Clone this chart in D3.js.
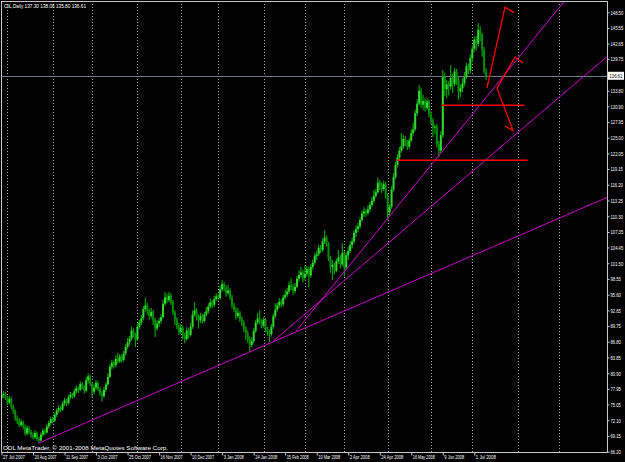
<!DOCTYPE html>
<html>
<head>
<meta charset="utf-8">
<script src="https://cdn.jsdelivr.net/npm/d3@7"></script>
<style>
  html, body { margin: 0; padding: 0; background: #000; }
  svg { display: block; }
</style>
</head>
<body>
<script>
// -------------------------------------------------------------------------- //
//                                  DATA                                      //
// -------------------------------------------------------------------------- //

var symbolTitle = "OIL,Daily";
var copyrightText = "ODL MetaTrader, \u00a9 2001-2008 MetaQuotes Software Corp.";

var opens = [
  76.2,76.8,77.0,76.2,75.4,76.1,74.6,73.8,72.5,71.9,
  71.2,71.8,70.9,69.6,70.6,69.9,69.3,68.9,69.7,68.6,
  68.3,69.4,70.1,69.8,70.9,71.6,72.3,72.0,73.1,73.9,
  74.4,74.1,75.2,75.8,75.3,76.4,76.9,76.6,77.5,78.1,
  77.8,78.9,78.4,77.6,79.6,80.3,78.9,77.4,78.2,79.1,
  77.9,77.2,76.6,77.8,78.8,80.2,82.1,82.9,82.4,83.6,
  83.1,84.0,83.4,84.6,85.8,86.7,87.4,88.9,88.1,87.2,
  89.6,90.4,91.2,92.9,93.6,92.6,91.6,92.4,90.8,89.3,
  90.2,90.7,91.4,93.9,95.1,94.6,95.4,94.2,92.3,91.0,
  89.8,88.6,89.4,88.0,87.3,88.9,88.1,89.6,91.9,92.7,
  91.4,90.8,91.6,90.7,91.9,92.5,93.4,94.2,93.7,94.8,
  95.3,95.0,96.6,97.6,96.8,95.9,96.4,95.1,93.6,92.8,
  91.6,92.2,91.0,90.4,89.2,88.4,87.3,86.2,86.9,88.8,
  90.4,91.2,90.6,89.8,90.9,89.1,88.6,88.2,89.6,91.6,
  92.8,93.6,94.3,93.8,95.1,95.6,96.2,97.4,97.0,96.3,
  97.1,98.6,99.3,99.8,98.8,99.5,100.4,99.2,100.8,101.6,
  102.9,103.2,104.4,104.0,105.6,106.3,105.1,102.4,100.8,101.2,
  100.1,101.9,102.6,101.3,103.4,100.7,103.0,103.8,104.9,105.6,
  107.2,107.9,108.4,109.6,110.8,111.2,110.9,111.6,112.4,113.2,
  114.1,114.8,116.6,116.0,115.4,116.3,114.2,111.0,112.1,115.3,
  117.6,119.9,121.3,122.6,123.4,124.8,124.1,123.3,124.5,125.9,
  126.6,129.6,131.4,133.8,131.2,131.9,130.6,131.8,129.4,128.2,
  126.9,127.1,123.8,122.6,125.5,136.4,134.1,135.0,134.6,136.2,
  135.1,137.4,135.8,133.6,134.3,135.2,136.4,138.4,137.6,139.9,
  141.7,143.4,142.6,145.2,144.3,141.4,137.30
];

var highs = [
  77.3,77.6,77.4,76.6,76.7,76.4,75.0,74.1,73.0,72.4,
  72.3,72.0,71.3,71.1,71.0,70.3,69.8,70.2,70.0,69.0,
  69.8,70.6,70.5,71.3,72.0,72.8,72.7,73.5,74.3,74.9,
  74.8,75.6,76.3,76.1,76.9,77.4,77.2,78.0,78.6,78.4,
  79.4,79.2,78.7,80.2,80.9,80.6,79.2,78.8,79.6,79.4,
  78.3,77.6,78.3,79.2,80.9,82.6,83.4,83.3,84.2,84.7,
  84.5,84.4,85.1,86.3,87.5,87.9,89.6,89.3,88.5,90.2,
  90.9,91.8,93.5,95.0,94.1,93.0,93.1,92.8,91.3,90.8,
  91.3,92.0,94.6,96.1,95.8,96.1,95.9,94.6,92.7,91.4,
  90.3,90.1,89.8,88.5,89.5,89.3,90.3,92.6,94.2,93.1,
  91.9,92.2,92.0,92.4,93.3,94.0,94.9,94.6,95.4,95.9,
  95.7,97.3,98.4,98.0,97.4,97.4,96.8,95.6,94.1,93.3,
  93.1,92.6,91.5,90.8,89.7,88.9,87.8,87.6,89.3,90.9,
  92.2,92.7,91.0,91.4,91.3,89.6,89.1,90.1,92.1,94.0,
  94.1,95.0,94.8,95.6,96.5,96.9,98.1,98.7,97.6,97.8,
  99.1,100.2,100.8,100.3,101.1,101.0,100.9,101.3,102.2,103.4,
  103.9,105.0,104.9,106.2,107.7,106.7,105.5,102.9,102.1,101.6,
  102.4,104.0,103.1,105.3,103.8,103.5,104.6,105.6,106.3,107.7,
  108.6,109.1,110.1,111.4,112.0,111.7,112.3,113.0,113.9,115.2,
  115.4,117.5,117.1,116.6,117.0,116.7,114.6,112.6,115.9,118.4,
  120.5,122.0,123.3,125.9,125.5,125.3,124.6,125.0,126.6,127.8,
  130.3,132.2,134.9,134.4,133.0,132.5,132.4,132.2,129.9,128.7,
  127.5,127.6,124.4,126.2,137.7,137.2,135.8,135.6,138.6,137.0,
  138.1,137.9,136.4,135.0,136.1,137.3,139.0,138.9,140.6,142.3,
  143.9,144.1,146.5,145.9,144.6,142.0,138.06
];

var lows = [
  75.8,76.3,75.9,74.9,75.1,74.2,73.3,72.0,71.4,70.8,
  70.9,70.4,69.2,69.3,69.5,68.8,68.5,68.6,68.2,67.8,
  68.1,69.0,69.3,69.6,70.5,71.2,71.5,71.8,72.7,73.4,
  73.6,73.9,74.8,74.7,75.0,76.0,76.1,76.3,77.1,77.2,
  77.5,77.9,77.1,77.3,79.0,78.5,76.5,77.0,77.8,77.5,
  76.7,75.6,76.2,77.4,78.5,80.0,81.6,81.8,82.0,82.7,
  82.8,82.9,83.1,84.2,85.4,86.1,87.0,87.6,85.8,86.9,
  89.2,89.9,90.8,92.4,91.9,90.9,91.2,89.9,87.7,88.9,
  89.6,90.2,91.1,93.5,94.0,94.2,93.7,91.8,89.9,89.2,
  88.1,88.2,87.2,86.5,87.0,87.4,87.8,89.2,91.5,90.8,
  89.3,90.3,90.2,90.4,91.5,92.1,93.0,93.1,93.3,94.4,
  94.5,94.7,96.2,96.2,95.2,95.5,94.6,93.0,92.3,90.9,
  91.2,90.5,89.7,88.6,87.1,86.6,84.9,85.7,86.5,88.4,
  90.0,90.1,89.3,89.4,88.6,87.9,86.7,87.8,89.2,91.2,
  92.4,93.1,93.2,93.4,94.7,95.2,95.8,96.5,95.5,95.9,
  96.8,98.1,98.8,97.9,98.3,99.0,97.0,98.8,100.3,101.2,
  102.1,102.8,103.4,103.6,105.1,104.6,101.9,99.7,98.4,99.4,
  99.8,101.4,100.6,101.0,99.0,100.3,102.1,103.4,104.3,105.2,
  106.4,107.3,108.0,109.2,110.2,110.2,110.5,111.1,112.0,112.8,
  113.7,114.5,115.2,114.6,115.0,113.6,109.6,110.3,111.7,114.9,
  117.2,119.4,120.8,122.2,122.9,123.4,122.7,122.9,124.1,125.4,
  126.2,129.1,131.0,130.6,130.2,129.9,130.1,128.8,127.6,125.2,
  125.6,123.2,121.4,122.1,125.0,132.8,132.4,132.9,134.0,133.4,
  134.6,134.9,132.1,132.6,133.5,134.6,136.0,136.9,137.1,139.2,
  141.0,141.4,142.1,143.1,140.2,137.0,135.80
];

var closes = [
  76.8,77.0,76.2,75.4,76.1,74.6,73.8,72.5,71.9,71.2,
  71.8,70.9,69.6,70.6,69.9,69.3,68.9,69.7,68.6,68.3,
  69.4,70.1,69.8,70.9,71.6,72.3,72.0,73.1,73.9,74.4,
  74.1,75.2,75.8,75.3,76.4,76.9,76.6,77.5,78.1,77.8,
  78.9,78.4,77.6,79.6,80.3,78.9,77.4,78.2,79.1,77.9,
  77.2,76.6,77.8,78.8,80.2,82.1,82.9,82.4,83.6,83.1,
  84.0,83.4,84.6,85.8,86.7,87.4,88.9,88.1,87.2,89.6,
  90.4,91.2,92.9,93.6,92.6,91.6,92.4,90.8,89.3,90.2,
  90.7,91.4,93.9,95.1,94.6,95.4,94.2,92.3,91.0,89.8,
  88.6,89.4,88.0,87.3,88.9,88.1,89.6,91.9,92.7,91.4,
  90.8,91.6,90.7,91.9,92.5,93.4,94.2,93.7,94.8,95.3,
  95.0,96.6,97.6,96.8,95.9,96.4,95.1,93.6,92.8,91.6,
  92.2,91.0,90.4,89.2,88.4,87.3,86.2,86.9,88.8,90.4,
  91.2,90.6,89.8,90.9,89.1,88.6,88.2,89.6,91.6,92.8,
  93.6,94.3,93.8,95.1,95.6,96.2,97.4,97.0,96.3,97.1,
  98.6,99.3,99.8,98.8,99.5,100.4,99.2,100.8,101.6,102.9,
  103.2,104.4,104.0,105.6,106.3,105.1,102.4,100.8,101.2,100.1,
  101.9,102.6,101.3,103.4,100.7,103.0,103.8,104.9,105.6,107.2,
  107.9,108.4,109.6,110.8,111.2,110.9,111.6,112.4,113.2,114.1,
  114.8,116.6,116.0,115.4,116.3,114.2,111.0,112.1,115.3,117.6,
  119.9,121.3,122.6,123.4,124.8,124.1,123.3,124.5,125.9,126.6,
  129.6,131.4,133.8,131.2,131.9,130.6,131.8,129.4,128.2,126.9,
  127.1,123.8,122.6,125.5,136.4,134.1,135.0,134.6,136.2,135.1,
  137.4,135.8,133.6,134.3,135.2,136.4,138.4,137.6,139.9,141.7,
  143.4,142.6,145.2,144.3,141.4,137.4,136.61
];

// price scale labels on the right
var priceTicks = [148.50,145.55,142.65,139.75,133.80,130.90,127.95,125.00,122.05,
                  119.15,116.20,113.25,110.30,107.35,104.45,101.50,98.55,95.60,
                  92.65,89.75,86.80,83.85,80.90,77.95,75.05,72.10,69.15,66.20];

// time scale labels (bar index -> text)
var dateTickBars   = [0,16,32,48,64,80,96,112,128,144,160,176,192,208,224,240];
var dateTickLabels = ["27 Jul 2007","20 Aug 2007","11 Sep 2007","3 Oct 2007","25 Oct 2007",
                      "16 Nov 2007","10 Dec 2007","3 Jan 2008","24 Jan 2008","15 Feb 2008",
                      "10 Mar 2008","2 Apr 2008","24 Apr 2008","16 May 2008","9 Jun 2008","1 Jul 2008"];

// month separators (bar index of first bar of the month)
var monthGridBars = [3,26,46,69,91,110,133,154,174,196,218,239,262,283];

// hand drawn trend lines, [bar, price] pairs
var trendLines = [
  [[18.8, 67.8],  [307.6, 113.85]],
  [[137.6, 86.8], [307.6, 140.3]],
  [[149.5, 88.8], [290.0, 152.5]]
];

// red support levels
var supportLevels = [
  { price: 131.1, from: 223.5, to: 265.5 },
  { price: 120.8, from: 200.8, to: 267.0 }
];

// red arrows, polylines in [bar, price]
var arrowPaths = [
  [[246.4, 134.3], [255.6, 149.5], [260.2, 148.4]],
  [[251.5, 134.3], [260.7, 140.1], [264.7, 139.0]],
  [[251.5, 134.3], [259.6, 126.4], [255.5, 127.2]]
];

// -------------------------------------------------------------------------- //
//                                  SETUP                                     //
// -------------------------------------------------------------------------- //

var W = 625, H = 462;
var plotLeft = 1, plotRight = 607, plotTop = 1, plotBottom = 452;
var lastPrice = closes[closes.length - 1];
var fmt = d3.format(".2f");
var squeeze = 0.72;   // horizontal squeeze for the small price labels

var svg = d3.select("body")
    .append("svg")
    .attr("width", W)
    .attr("height", H)
    .style("background", "#000");

var x = d3.scaleLinear().domain([0, 300]).range([1.5, 1.5 + 300 * 1.97]);
var y = d3.scaleLinear().domain([66.20, 148.50]).range([451.7, 12.3]);

svg.append("defs").append("clipPath")
    .attr("id", "plotClip")
    .append("rect")
    .attr("x", plotLeft)
    .attr("y", plotTop)
    .attr("width", plotRight - plotLeft)
    .attr("height", plotBottom - plotTop);

var plot = svg.append("g").attr("clip-path", "url(#plotClip)");

// -------------------------------------------------------------------------- //
//                                  GRID                                      //
// -------------------------------------------------------------------------- //

plot.selectAll(".vgrid")
    .data(monthGridBars)
    .enter().append("line")
    .attr("class", "vgrid")
    .attr("x1", function(d) { return Math.round(x(d)) + 0.5; })
    .attr("x2", function(d) { return Math.round(x(d)) + 0.5; })
    .attr("y1", plotTop)
    .attr("y2", plotBottom)
    .attr("stroke", "#a8a8a8")
    .attr("stroke-dasharray", "1,2");

// current price line
plot.append("line")
    .attr("x1", plotLeft)
    .attr("x2", plotRight)
    .attr("y1", Math.round(y(lastPrice)) + 0.5)
    .attr("y2", Math.round(y(lastPrice)) + 0.5)
    .attr("stroke", "#6f7d8c")
    .attr("stroke-width", 1);

// -------------------------------------------------------------------------- //
//                                 CANDLES                                    //
// -------------------------------------------------------------------------- //

var bars = d3.range(closes.length);

plot.selectAll(".wick")
    .data(bars)
    .enter().append("line")
    .attr("class", "wick")
    .attr("x1", function(i) { return x(i); })
    .attr("x2", function(i) { return x(i); })
    .attr("y1", function(i) { return y(highs[i]); })
    .attr("y2", function(i) { return y(lows[i]); })
    .attr("stroke", "#00a000")
    .attr("stroke-width", 1.2);

plot.selectAll(".body")
    .data(bars)
    .enter().append("rect")
    .attr("class", "body")
    .attr("x", function(i) { return x(i) - 1; })
    .attr("width", 2)
    .attr("y", function(i) { return y(Math.max(opens[i], closes[i])); })
    .attr("height", function(i) { return Math.max(0.8, Math.abs(y(opens[i]) - y(closes[i]))); })
    .attr("fill", function(i) { return closes[i] >= opens[i] ? "#33d633" : "#0a8a0a"; });

// -------------------------------------------------------------------------- //
//                               ANNOTATIONS                                  //
// -------------------------------------------------------------------------- //

var lineFunction = d3.line()
    .x(function(d) { return x(d[0]); })
    .y(function(d) { return y(d[1]); });

plot.selectAll(".trend")
    .data(trendLines)
    .enter().append("path")
    .attr("class", "trend")
    .attr("d", lineFunction)
    .attr("fill", "none")
    .attr("stroke", "#c800c8")
    .attr("stroke-width", 1);

plot.selectAll(".level")
    .data(supportLevels)
    .enter().append("line")
    .attr("class", "level")
    .attr("x1", function(d) { return x(d.from); })
    .attr("x2", function(d) { return x(d.to); })
    .attr("y1", function(d) { return y(d.price); })
    .attr("y2", function(d) { return y(d.price); })
    .attr("stroke", "#ff0000")
    .attr("stroke-width", 1.6);

plot.selectAll(".arrow")
    .data(arrowPaths)
    .enter().append("path")
    .attr("class", "arrow")
    .attr("d", lineFunction)
    .attr("fill", "none")
    .attr("stroke", "#ff0000")
    .attr("stroke-width", 1.3);

// -------------------------------------------------------------------------- //
//                                  FRAME                                     //
// -------------------------------------------------------------------------- //

svg.append("rect")
    .attr("x", plotLeft + 0.5)
    .attr("y", plotTop + 0.5)
    .attr("width", plotRight - plotLeft)
    .attr("height", plotBottom - plotTop)
    .attr("fill", "none")
    .attr("stroke", "#c8c8c8");

// -------------------------------------------------------------------------- //
//                                  AXES                                      //
// -------------------------------------------------------------------------- //

var axisFont = "'Liberation Sans', Arial, sans-serif";

var yAxis = d3.axisRight(y)
    .tickValues(priceTicks)
    .tickFormat(fmt)
    .tickSize(2)
    .tickPadding(1);

var gy = svg.append("g")
    .attr("transform", "translate(" + (plotRight + 0.5) + ",0)")
    .call(yAxis);
gy.select(".domain").remove();
gy.selectAll("line").attr("stroke", "#c8c8c8");
gy.selectAll("text")
    .attr("fill", "#ffffff")
    .attr("x", 3 / squeeze)
    .attr("transform", "scale(" + squeeze + ",1)")
    .style("font-family", axisFont)
    .style("font-size", "5.8px");

var xAxis = d3.axisBottom(x)
    .tickValues(dateTickBars)
    .tickFormat(function(d, i) { return dateTickLabels[i]; })
    .tickSize(3)
    .tickPadding(1);

var gx = svg.append("g")
    .attr("transform", "translate(0," + (plotBottom + 0.5) + ")")
    .call(xAxis);
gx.select(".domain").remove();
gx.selectAll("line").attr("stroke", "#c8c8c8");
gx.selectAll("text")
    .attr("fill", "#ffffff")
    .attr("text-anchor", "start")
    .attr("x", 1)
    .attr("y", 3)
    .attr("textLength", function(d, i) { return dateTickLabels[i].length * 2.0; })
    .attr("lengthAdjust", "spacingAndGlyphs")
    .style("font-family", axisFont)
    .style("font-size", "5.5px");

// last price box
svg.append("rect")
    .attr("x", plotRight + 1)
    .attr("y", y(lastPrice) - 4)
    .attr("width", 16)
    .attr("height", 8)
    .attr("fill", "#ffffff");

svg.append("text")
    .attr("transform", "translate(" + (plotRight + 2.5) + "," + (y(lastPrice) + 2.2) + ") scale(" + squeeze + ",1)")
    .text(fmt(lastPrice))
    .attr("fill", "#000")
    .style("font-family", axisFont)
    .style("font-size", "5.8px");

// -------------------------------------------------------------------------- //
//                                  TEXT                                      //
// -------------------------------------------------------------------------- //

svg.append("text")
    .attr("x", 4)
    .attr("y", 7.5)
    .attr("fill", "#ffffff")
    .attr("textLength", 82)
    .attr("lengthAdjust", "spacingAndGlyphs")
    .style("font-family", axisFont)
    .style("font-size", "5.6px")
    .text(symbolTitle + "  " + [opens[opens.length - 1], highs[highs.length - 1],
          lows[lows.length - 1], closes[closes.length - 1]].map(fmt).join(" "));

svg.append("text")
    .attr("x", 3)
    .attr("y", 450)
    .attr("fill", "#ffffff")
    .attr("textLength", 165)
    .attr("lengthAdjust", "spacingAndGlyphs")
    .style("font-family", axisFont)
    .style("font-size", "6.2px")
    .text(copyrightText);
</script>
</body>
</html>
